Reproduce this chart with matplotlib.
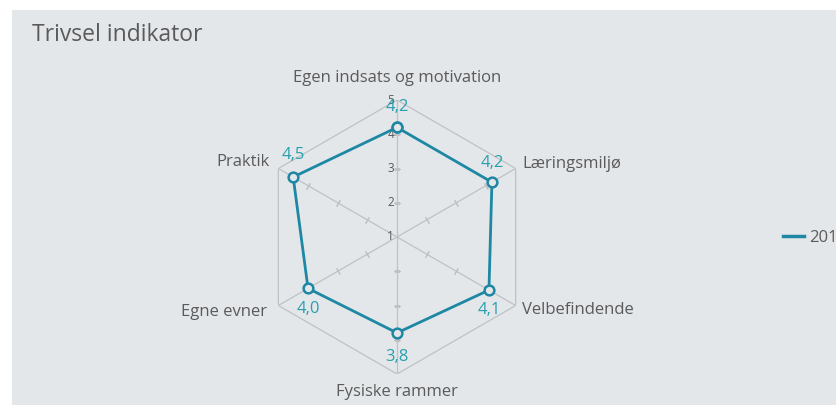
import numpy as np
import matplotlib.pyplot as plt
from matplotlib.patches import Rectangle
from matplotlib.lines import Line2D

plt.rcParams['font.family'] = ['Open Sans', 'DejaVu Sans']

categories = ['Egen indsats og motivation', 'Læringsmiljø', 'Velbefindende',
              'Fysiske rammer', 'Egne evner', 'Praktik']
values = [4.2, 4.2, 4.1, 3.8, 4.0, 4.5]
value_labels = ['4,2', '4,2', '4,1', '3,8', '4,0', '4,5']
series_name = '2017'
r_ticks = [1, 2, 3, 4, 5]

bg = '#e4e7ea'
line_col = '#1d87a4'
val_col = '#2a9fae'
txt_col = '#5a5a5a'
grid_col = '#bfc2c5'

fig = plt.figure(figsize=(8.36, 4.05), dpi=100)
fig.patch.set_facecolor('white')
fig.patches.append(Rectangle((12 / 836, 0), 1, (405 - 10) / 405,
                             transform=fig.transFigure, facecolor=bg,
                             edgecolor='none', zorder=-5))
fig.text(32 / 836, (405 - 35) / 405, 'Trivsel indikator', fontsize=16.5,
         color=txt_col, va='center', ha='left')

ax = fig.add_axes([260 / 836, 31 / 405, 274 / 836, 274 / 405],
                  projection='polar')
ax.set_zorder(2)
ax.set_facecolor('none')
ax.set_theta_zero_location('N')
ax.set_theta_direction(-1)
ax.set_ylim(1, 5)
ax.grid(False)
ax.spines['polar'].set_visible(False)
ax.set_xticks([])
ax.set_yticks([])

n = len(categories)
angles = np.arange(n) * 2 * np.pi / n

# outer hexagon and spokes
ax.plot(np.append(angles, angles[0]), [5] * (n + 1), color=grid_col, lw=0.9)
for a in angles:
    ax.plot([a, a], [1, 5], color=grid_col, lw=0.9)
    ax.plot([a] * 3, [2, 3, 4], ls='none',
            marker=(2, 2, 90 - np.degrees(a)), ms=5, mew=0.8, color=grid_col)

for r in r_ticks:
    ax.annotate(str(r), (0, r), xytext=(-2, 0), textcoords='offset points',
                ha='right', va='center', fontsize=8.5, color=txt_col)

# series
ax.plot(np.append(angles, angles[0]), values + values[:1], color=line_col,
        lw=2, marker='o', ms=7, mfc=bg, mec=line_col, mew=1.8, zorder=5)

val_offsets = [(0, 15), (0, 14), (0, -14), (0, -17), (0, -15), (0, 16)]
for a, v, lab, off in zip(angles, values, value_labels, val_offsets):
    ax.annotate(lab, (a, v), xytext=off, textcoords='offset points',
                ha='center', va='center', fontsize=12, color=val_col)

cat_pos = [((0, 5), (0, 16), 'center'),
           ((angles[1], 5), (4.5, 3.5), 'left'),
           ((angles[2], 5), (4.5, -3), 'left'),
           ((angles[3], 5), (0, -13), 'center'),
           ((angles[4], 5), (-8.5, -5), 'right'),
           ((angles[5], 5), (-6.5, 4.5), 'right')]
for cat, (xy, off, ha) in zip(categories, cat_pos):
    ax.annotate(cat, xy, xytext=off, textcoords='offset points', ha=ha,
                va='center', fontsize=12, color=txt_col, annotation_clip=False)

fig.legend([Line2D([], [], color=line_col, lw=2.5)], [series_name],
           loc='center left', bbox_to_anchor=(768 / 836, (405 - 238) / 405),
           frameon=False, handlelength=1.26, handletextpad=0.3, fontsize=12,
           labelcolor=txt_col)

fig.savefig('out.png', dpi=100, facecolor='white')
